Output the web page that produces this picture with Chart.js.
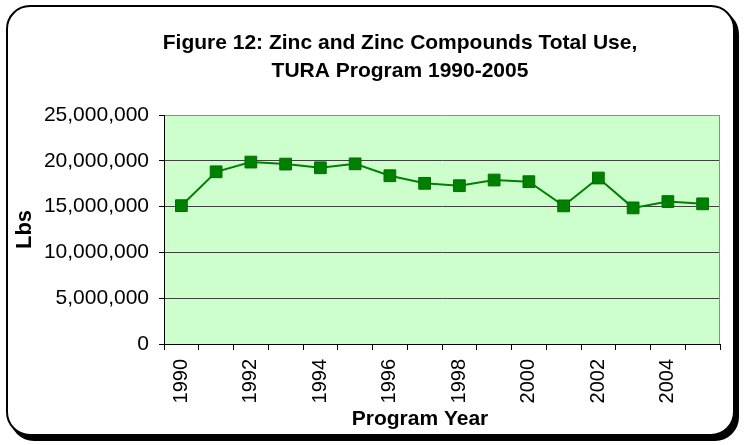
<!DOCTYPE html>
<html>
<head>
<meta charset="utf-8">
<script src="https://cdn.jsdelivr.net/npm/chart.js@4.4.1/dist/chart.umd.min.js"></script>
<style>
  html, body { margin: 0; padding: 0; background: #fff; }
  #wrap { position: relative; width: 744px; height: 445px; overflow: hidden; }
  #frame {
    position: absolute; left: 6px; top: 5px; width: 729px; height: 431px;
    box-sizing: border-box; border: 2px solid #000; border-radius: 24px;
    box-shadow: 4px 5px 0 #000; background: #fff;
  }
  #c { position: absolute; left: 0; top: 0; }
</style>
</head>
<body>
<div id="wrap">
  <div id="frame"></div>
  <canvas id="c" width="744" height="445"></canvas>
</div>
<script>
const titleLines = ['Figure 12: Zinc and Zinc Compounds Total Use,', 'TURA Program 1990-2005'];
const xAxisTitle = 'Program Year';
const years = ['1990','1991','1992','1993','1994','1995','1996','1997','1998','1999','2000','2001','2002','2003','2004','2005'];
const zincUse = [15100000, 18800000, 19860000, 19640000, 19240000, 19670000, 18370000, 17540000,
                 17280000, 17900000, 17720000, 15080000, 18120000, 14860000, 15550000, 15300000];
const xTickLabels = ['1990','1992','1994','1996','1998','2000','2002','2004'];
const yTickValues = [0, 5000000, 10000000, 15000000, 20000000, 25000000];

const FONT = "Arial, 'Liberation Sans', Helvetica, sans-serif";

const plotDecor = {
  id: 'plotDecor',
  beforeDraw(chart) {
    const {ctx, chartArea: a} = chart;
    ctx.save();
    ctx.fillStyle = '#CCFFCC';
    ctx.fillRect(a.left, a.top, a.right - a.left, a.bottom - a.top);
    ctx.restore();
  },
  beforeDatasetsDraw(chart) {
    const {ctx, chartArea: a} = chart;
    ctx.save();
    ctx.strokeStyle = '#8c8c8c';
    ctx.lineWidth = 1;
    ctx.beginPath();
    ctx.moveTo(a.right - 0.5, a.top);
    ctx.lineTo(a.right - 0.5, a.bottom);
    ctx.stroke();
    ctx.restore();
  },
  afterDraw(chart) {
    const {ctx} = chart;
    ctx.save();
    ctx.fillStyle = '#000';
    ctx.font = 'bold 21px ' + FONT;
    ctx.textAlign = 'center';
    ctx.textBaseline = 'alphabetic';
    ctx.fillText(titleLines[0], 400, 49);
    ctx.fillText(titleLines[1], 400, 77);
    ctx.fillText(xAxisTitle, 420, 425);
    ctx.restore();
  }
};

new Chart(document.getElementById('c'), {
  type: 'line',
  data: {
    labels: years,
    datasets: [{
      label: 'Zinc and Zinc Compounds Total Use',
      data: zincUse,
      borderColor: '#008000',
      backgroundColor: '#008000',
      borderWidth: 2,
      tension: 0,
      pointStyle: 'rect',
      pointRadius: 8.3,
      pointHoverRadius: 8.3,
      pointBackgroundColor: '#008000',
      pointBorderColor: '#006e00',
      pointBorderWidth: 1
    }]
  },
  options: {
    responsive: false,
    animation: false,
    devicePixelRatio: 1,
    layout: { padding: { top: 115, left: 8, right: 24, bottom: 8 } },
    plugins: {
      legend: { display: false },
      tooltip: { enabled: false },
      title: { display: false }
    },
    scales: {
      x: {
        type: 'category',
        offset: true,
        afterFit(scale) { scale.height = 93; },
        grid: {
          offset: true,
          drawOnChartArea: false,
          drawTicks: true,
          tickLength: 6,
          color: '#000',
          tickColor: '#000'
        },
        border: { display: true, color: '#000', width: 1 },
        ticks: {
          autoSkip: false,
          maxRotation: 90,
          minRotation: 90,
          padding: 9,
          color: '#000',
          font: { family: FONT, size: 20 },
          callback(value, index) {
            const lab = this.getLabelForValue(value);
            return xTickLabels.includes(lab) ? lab : '';
          }
        },
        title: { display: false }
      },
      y: {
        min: 0,
        max: 25000000,
        afterFit(scale) { scale.width = 156; },
        afterBuildTicks(scale) { scale.ticks = yTickValues.map(v => ({ value: v })); },
        grid: {
          color: (c) => (c.tick && c.tick.value === 25000000) ? '#8c8c8c' : '#404040',
          tickColor: '#000',
          tickLength: 5,
          drawTicks: true
        },
        border: { display: true, color: '#000', width: 1 },
        ticks: {
          padding: 10,
          color: '#000',
          font: { family: FONT, size: 21 },
          callback(v) { return Number(v).toLocaleString('en-US'); }
        },
        title: {
          display: true,
          text: 'Lbs',
          color: '#000',
          font: { family: FONT, size: 22, weight: 'bold', lineHeight: 1.2 },
          padding: { top: 4, bottom: 0 }
        }
      }
    }
  },
  plugins: [plotDecor]
});
</script>
</body>
</html>
